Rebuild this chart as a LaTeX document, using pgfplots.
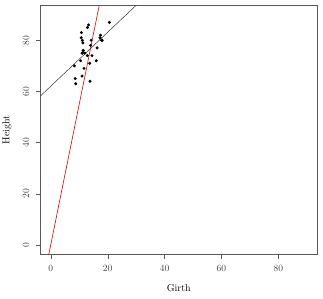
\documentclass[border=0pt]{standalone}
\usepackage{pgfplots}
\pgfplotsset{compat=1.18}
\begin{document}
\begin{tikzpicture}[x=1pt,y=1pt]
\useasboundingbox (-40.5,-44) rectangle (282.5,254);
\begin{axis}[
  at={(0,0)}, anchor=south west,
  scale only axis, width=276.5pt, height=248.5pt,
  xmin=-3.6, xmax=93.6, ymin=-3.6, ymax=93.6,
  xtick={0,20,40,60,80}, ytick={0,20,40,60,80},
  tick align=outside, major tick length=4.5pt,
  axis line style={black!65},
  tick style={black!65},
  xtick pos=bottom, ytick pos=left,
  /pgf/number format/assume math mode=true,
  tick label style={font=\fontsize{9.5}{10}\selectfont, text=black!75},
  xticklabel style={anchor=center, yshift=-10pt},
  yticklabel style={xshift=-10pt, anchor=center, rotate=90},
  label style={font=\fontsize{9.5}{10}\selectfont, text=black!80},
  xlabel={Girth}, ylabel={Height},
  every axis x label/.style={at={(axis description cs:0.5,0)}, yshift=-34pt, anchor=center},
  every axis y label/.style={at={(axis description cs:0,0.5)}, xshift=-33.5pt, anchor=center, rotate=90},
  clip=true,
]
\addplot[only marks, mark=*, mark size=1.3pt, black] coordinates {
(8.3,70)(8.6,65)(8.8,63)(10.5,72)(10.7,81)(10.8,83)(11.0,66)(11.0,75)(11.1,80)(11.2,75)
(11.3,79)(11.4,76)(11.4,76)(11.7,69)(12.0,75)(12.9,74)(12.9,85)(13.3,86)(13.7,71)(13.8,64)
(14.0,78)(14.2,80)(14.5,74)(16.0,72)(16.3,77)(17.3,81)(17.5,82)(17.9,80)(18.0,80)(18.0,80)
(20.6,87)};
\addplot[black!80, line width=0.5pt] coordinates {(-3.6,58.236)(93.6,160.68)};
\addplot[red!85!black, line width=0.6pt] coordinates {(-0.655,-3.6)(17.04,93.6)};
\end{axis}
\end{tikzpicture}
\end{document}
